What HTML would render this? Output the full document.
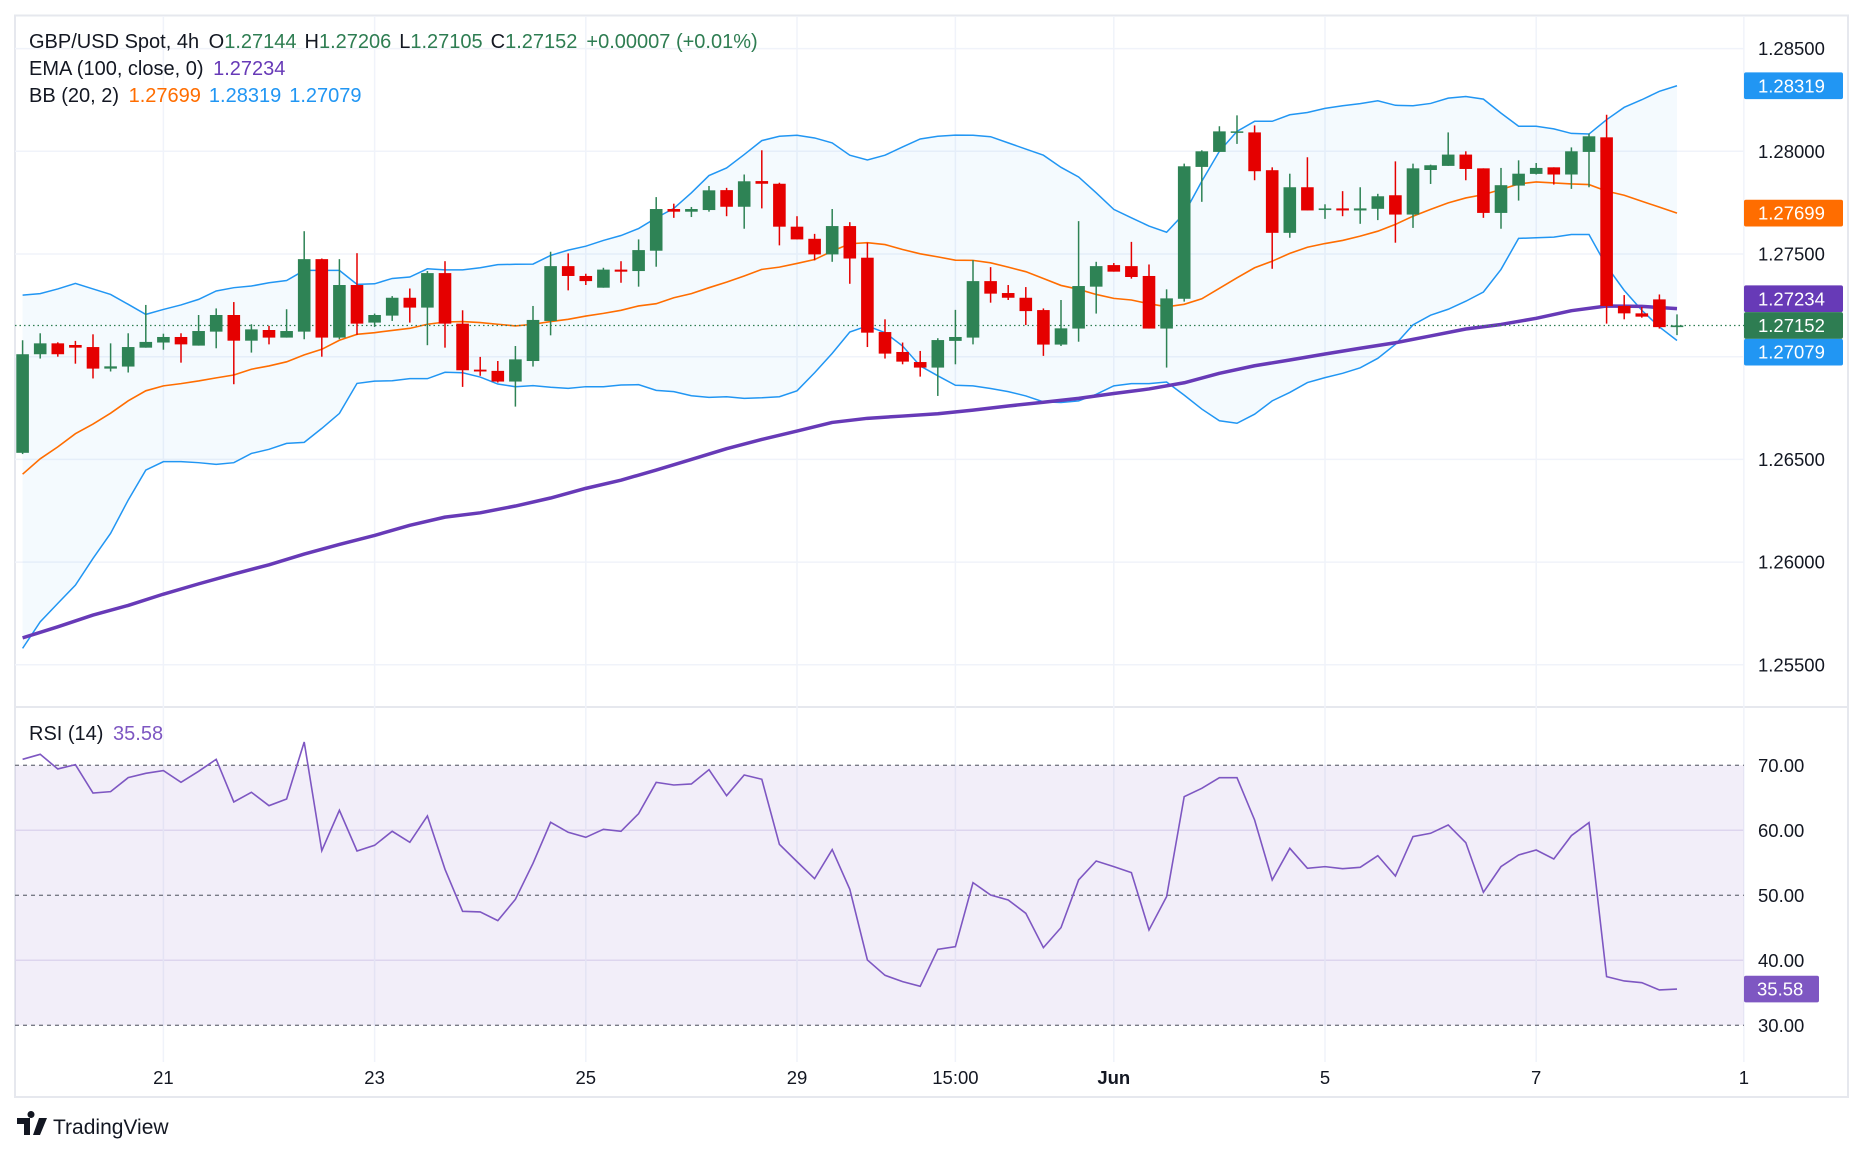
<!DOCTYPE html>
<html><head><meta charset="utf-8"><title>GBP/USD 4h chart</title>
<style>
html,body{margin:0;padding:0;background:#fff;}
svg{display:block;font-family:"Liberation Sans",Arial,sans-serif;}
</style></head>
<body>
<svg id="chart" width="1865" height="1154" viewBox="0 0 1865 1154" xmlns="http://www.w3.org/2000/svg">
  <rect x="15" y="15.5" width="1833" height="1081.5" fill="#fff" stroke="#e6e8ee" stroke-width="2"/>
  <line x1="15" y1="707" x2="1848" y2="707" stroke="#e6e8ee" stroke-width="2"/>
  <g id="grid"></g>
  <g id="rsiBg"></g>
  <g id="bands"></g>
  <g id="ema"></g>
  <g id="candles"></g>
  <g id="rsi"></g>
  <g id="axes"></g>
  <g id="labels"></g>

  <g font-size="20">
    <text x="29" y="48" fill="#131722">GBP/USD Spot, 4h <tspan dx="4">O</tspan><tspan fill="#2e7d52">1.27144</tspan><tspan dx="8">H</tspan><tspan fill="#2e7d52">1.27206</tspan><tspan dx="8">L</tspan><tspan fill="#2e7d52">1.27105</tspan><tspan dx="8">C</tspan><tspan fill="#2e7d52">1.27152</tspan><tspan dx="9" fill="#2e7d52">+0.00007 (+0.01%)</tspan></text>
    <text x="29" y="75" fill="#131722">EMA (100, close, 0) <tspan dx="4" fill="#673ab7">1.27234</tspan></text>
    <text x="29" y="102" fill="#131722">BB (20, 2) <tspan dx="4" fill="#ff6d00">1.27699</tspan><tspan dx="8" fill="#2196f3">1.28319</tspan><tspan dx="8" fill="#2196f3">1.27079</tspan></text>
    <text x="29" y="740" fill="#131722">RSI (14) <tspan dx="4" fill="#7e57c2">35.58</tspan></text>
  </g>
  <g>
    <path d="M17 1118 h13 v17 h-6 v-11 h-7z M31 1118 a3.5 3.5 0 1 1 0.01 0z M39 1118 h8 l-7 17 h-7z" fill="#131722"/>
    <text x="53" y="1134" font-size="21" fill="#131722">TradingView</text>
  </g>
</svg>
<script>
const opens=[1.26532,1.27012,1.27065,1.27057,1.27047,1.26942,1.26952,1.27044,1.27069,1.27096,1.27054,1.27122,1.27203,1.27078,1.27130,1.27093,1.27122,1.27475,1.27093,1.27349,1.27166,1.27200,1.27287,1.27239,1.27407,1.27161,1.26937,1.26931,1.26879,1.26979,1.27174,1.27441,1.27393,1.27336,1.27424,1.27417,1.27516,1.27719,1.27706,1.27714,1.27811,1.27730,1.27855,1.27842,1.27633,1.27574,1.27498,1.27636,1.27482,1.27120,1.27023,1.26974,1.26947,1.27077,1.27093,1.27368,1.27310,1.27287,1.27227,1.27059,1.27137,1.27341,1.27446,1.27441,1.27393,1.27137,1.27282,1.27924,1.27997,1.28094,1.28092,1.27908,1.27603,1.27825,1.27714,1.27722,1.27712,1.27720,1.27786,1.27692,1.27909,1.27929,1.27984,1.27917,1.27700,1.27833,1.27890,1.27922,1.27887,1.27997,1.28068,1.27247,1.27211,1.27279,1.27144];
const highs=[1.27080,1.27114,1.27070,1.27077,1.27109,1.27065,1.27114,1.27252,1.27112,1.27114,1.27203,1.27235,1.27266,1.27158,1.27150,1.27231,1.27611,1.27478,1.27475,1.27504,1.27210,1.27295,1.27332,1.27417,1.27465,1.27226,1.26999,1.26979,1.27052,1.27247,1.27511,1.27503,1.27404,1.27433,1.27465,1.27571,1.27777,1.27745,1.27729,1.27831,1.27822,1.27887,1.28005,1.27847,1.27684,1.27598,1.27719,1.27655,1.27555,1.27182,1.27069,1.27028,1.27090,1.27228,1.27470,1.27436,1.27349,1.27339,1.27235,1.27276,1.27660,1.27462,1.27456,1.27559,1.27449,1.27328,1.27940,1.28005,1.28122,1.28175,1.28126,1.27922,1.27891,1.27971,1.27742,1.27806,1.27825,1.27793,1.27951,1.27940,1.27935,1.28092,1.28000,1.27917,1.27919,1.27956,1.27943,1.27922,1.28019,1.28086,1.28178,1.27300,1.27242,1.27303,1.27206];
const lows=[1.26526,1.26991,1.27000,1.26966,1.26894,1.26928,1.26923,1.27044,1.27034,1.26971,1.27054,1.27041,1.26866,1.27020,1.27060,1.27093,1.27085,1.27000,1.27085,1.27106,1.27145,1.27174,1.27166,1.27056,1.27044,1.26853,1.26907,1.26874,1.26757,1.26952,1.27104,1.27323,1.27349,1.27336,1.27360,1.27341,1.27438,1.27676,1.27680,1.27706,1.27684,1.27623,1.27722,1.27542,1.27571,1.27469,1.27462,1.27355,1.27047,1.26991,1.26963,1.26903,1.26809,1.26963,1.27060,1.27263,1.27276,1.27154,1.27004,1.27052,1.27073,1.27210,1.27414,1.27380,1.27137,1.26947,1.27268,1.27754,1.27997,1.28036,1.27859,1.27428,1.27579,1.27712,1.27671,1.27684,1.27647,1.27665,1.27555,1.27627,1.27841,1.27929,1.27859,1.27676,1.27623,1.27760,1.27887,1.27838,1.27817,1.27825,1.27161,1.27182,1.27190,1.27137,1.27105];
const closes=[1.27012,1.27065,1.27012,1.27044,1.26942,1.26953,1.27047,1.27072,1.27096,1.27060,1.27125,1.27203,1.27078,1.27133,1.27093,1.27125,1.27475,1.27093,1.27349,1.27161,1.27203,1.27287,1.27239,1.27407,1.27161,1.26934,1.26928,1.26879,1.26987,1.27179,1.27441,1.27393,1.27368,1.27424,1.27414,1.27519,1.27719,1.27706,1.27719,1.27810,1.27730,1.27854,1.27842,1.27633,1.27571,1.27498,1.27636,1.27478,1.27117,1.27015,1.26976,1.26947,1.27081,1.27096,1.27368,1.27307,1.27287,1.27222,1.27059,1.27138,1.27344,1.27441,1.27414,1.27388,1.27137,1.27284,1.27927,1.28000,1.28097,1.28097,1.27903,1.27603,1.27825,1.27712,1.27722,1.27712,1.27722,1.27781,1.27692,1.27917,1.27932,1.27984,1.27914,1.27700,1.27835,1.27891,1.27919,1.27887,1.28000,1.28073,1.27247,1.27211,1.27195,1.27144,1.27152];
const bbUpper=[1.27300,1.27307,1.27330,1.27357,1.27330,1.27303,1.27255,1.27206,1.27230,1.27252,1.27279,1.27320,1.27336,1.27344,1.27360,1.27371,1.27420,1.27420,1.27420,1.27352,1.27355,1.27381,1.27388,1.27428,1.27423,1.27423,1.27433,1.27448,1.27450,1.27451,1.27493,1.27519,1.27538,1.27566,1.27590,1.27624,1.27676,1.27722,1.27798,1.27882,1.27919,1.27984,1.28052,1.28073,1.28078,1.28065,1.28041,1.27981,1.27958,1.27981,1.28021,1.28060,1.28073,1.28079,1.28078,1.28071,1.28041,1.28011,1.27981,1.27922,1.27875,1.27798,1.27717,1.27676,1.27636,1.27606,1.27697,1.27854,1.28000,1.28097,1.28146,1.28146,1.28178,1.28189,1.28209,1.28222,1.28232,1.28246,1.28224,1.28222,1.28233,1.28259,1.28267,1.28254,1.28186,1.28122,1.28122,1.28109,1.28087,1.28084,1.28154,1.28214,1.28251,1.28292,1.28319];
const bbMid=[1.26428,1.26503,1.26561,1.26625,1.26672,1.26725,1.26785,1.26834,1.26858,1.26869,1.26882,1.26897,1.26911,1.26939,1.26955,1.26975,1.27009,1.27036,1.27080,1.27109,1.27117,1.27128,1.27138,1.27158,1.27169,1.27171,1.27166,1.27158,1.27150,1.27158,1.27171,1.27182,1.27198,1.27211,1.27226,1.27247,1.27258,1.27287,1.27307,1.27336,1.27363,1.27393,1.27425,1.27436,1.27454,1.27473,1.27514,1.27550,1.27555,1.27546,1.27522,1.27501,1.27486,1.27470,1.27469,1.27457,1.27436,1.27414,1.27381,1.27347,1.27328,1.27303,1.27284,1.27276,1.27258,1.27243,1.27255,1.27282,1.27333,1.27384,1.27433,1.27465,1.27503,1.27533,1.27551,1.27566,1.27587,1.27611,1.27644,1.27684,1.27717,1.27749,1.27773,1.27789,1.27814,1.27841,1.27851,1.27846,1.27841,1.27838,1.27806,1.27786,1.27757,1.27728,1.27699];
const bbLower=[1.25580,1.25709,1.25799,1.25888,1.26018,1.26140,1.26302,1.26448,1.26489,1.26489,1.26484,1.26476,1.26484,1.26529,1.26549,1.26578,1.26583,1.26651,1.26724,1.26870,1.26881,1.26883,1.26893,1.26893,1.26924,1.26922,1.26901,1.26867,1.26854,1.26859,1.26851,1.26846,1.26854,1.26854,1.26862,1.26864,1.26836,1.26830,1.26810,1.26802,1.26805,1.26797,1.26800,1.26805,1.26834,1.26922,1.27016,1.27120,1.27150,1.27117,1.27052,1.26955,1.26907,1.26861,1.26858,1.26845,1.26830,1.26809,1.26780,1.26777,1.26785,1.26817,1.26858,1.26869,1.26869,1.26877,1.26813,1.26745,1.26688,1.26676,1.26720,1.26785,1.26826,1.26874,1.26898,1.26919,1.26946,1.26992,1.27060,1.27155,1.27202,1.27231,1.27270,1.27315,1.27425,1.27576,1.27579,1.27582,1.27595,1.27595,1.27441,1.27323,1.27226,1.27145,1.27079];
const emaBars=[0,2,4,6,8,10,12,14,16,18,20,22,24,26,28,30,32,34,36,38,40,42,44,46,48,50,52,54,56,58,60,62,64,66,68,70,72,74,76,78,80,82,84,86,88,90,92,94];
const emaValues=[1.25631,1.25685,1.25742,1.25789,1.25844,1.25894,1.25942,1.25987,1.26039,1.26086,1.26130,1.26179,1.26219,1.26240,1.26273,1.26312,1.26359,1.26399,1.26448,1.26500,1.26552,1.26597,1.26638,1.26680,1.26700,1.26711,1.26722,1.26740,1.26760,1.26778,1.26797,1.26821,1.26843,1.26873,1.26919,1.26956,1.26984,1.27013,1.27041,1.27068,1.27101,1.27135,1.27157,1.27187,1.27224,1.27247,1.27245,1.27234];
const rsiValues=[70.92,71.69,69.44,70.10,65.74,65.95,68.10,68.77,69.18,67.38,69.08,70.92,64.36,65.85,63.79,64.82,73.59,56.87,63.08,56.82,57.69,59.85,58.15,62.21,54.00,47.54,47.44,46.10,49.38,54.92,61.23,59.69,58.92,60.15,59.85,62.56,67.38,66.97,67.13,69.33,65.33,68.51,67.85,57.85,55.18,52.56,57.03,50.92,40.05,37.69,36.72,36.00,41.69,42.10,51.95,50.05,49.28,47.23,41.95,45.03,52.36,55.28,54.41,53.49,44.67,49.79,65.18,66.46,68.10,68.10,61.59,52.36,57.23,54.15,54.41,54.10,54.31,56.10,52.97,59.03,59.54,60.82,58.10,50.46,54.41,56.21,56.97,55.59,59.18,61.18,37.49,36.82,36.56,35.44,35.58];
const priceTicks=[1.285,1.28,1.275,1.27,1.265,1.26,1.255];
const rsiTicks=[70,60,50,40,30];
const timeLabels=["21","23","25","29","15:00","Jun","5","7","1"];
const timeLabelBars=[8,20,32,44,53,62,74,86,97.8];

const NS="http://www.w3.org/2000/svg";
const PL=15, PR=1744;
const xOf=i=>22.6+17.6*i;
const yP=p=>356.7-(p-1.27)*20540;
const yR=r=>765.3+(70-r)*6.5;
function mk(parent,tag,attrs){const e=document.createElementNS(NS,tag);for(const k in attrs)e.setAttribute(k,attrs[k]);parent.appendChild(e);return e;}
const G=id=>document.getElementById(id);

const grid=G('grid');
priceTicks.forEach(p=>{const l=mk(grid,'line',{x1:PL,x2:PR,y1:yP(p),y2:yP(p),stroke:'#f0f3fa','stroke-width':1.5});

});
[60,40].forEach(r=>{const l=mk(grid,'line',{x1:PL,x2:PR,y1:yR(r),y2:yR(r),stroke:'#e8e4f3','stroke-width':1.5});

});
timeLabelBars.forEach(b=>{const l=mk(grid,'line',{x1:xOf(b),x2:xOf(b),y1:16,y2:1062,stroke:'#f0f3fa','stroke-width':1.5});

});

const rb=G('rsiBg');
const rr=mk(rb,'rect',{x:PL,y:yR(70),width:PR-PL,height:yR(30)-yR(70),fill:'rgba(126,87,194,0.1)'});


[70,50,30].forEach(r=>{const l=mk(rb,'line',{x1:PL,x2:PR,y1:yR(r),y2:yR(r),stroke:'#787b86','stroke-width':1.3,'stroke-dasharray':'4 4'});

});

const bands=G('bands');
const ptsU=bbUpper.map((v,i)=>xOf(i)+','+yP(v));
const ptsL=bbLower.map((v,i)=>xOf(i)+','+yP(v));
const fill=mk(bands,'polygon',{points:ptsU.concat(ptsL.slice().reverse()).join(' '),fill:'rgba(33,150,243,0.05)'});


const up=mk(bands,'polyline',{points:ptsU.join(' '),fill:'none',stroke:'#2196f3','stroke-width':1.5});


const lo=mk(bands,'polyline',{points:ptsL.join(' '),fill:'none',stroke:'#2196f3','stroke-width':1.5});


const mid=mk(bands,'polyline',{points:bbMid.map((v,i)=>xOf(i)+','+yP(v)).join(' '),fill:'none',stroke:'#ff6d00','stroke-width':1.6});



const em=mk(G('ema'),'polyline',{points:emaBars.map((b,k)=>xOf(b)+','+yP(emaValues[k])).join(' '),fill:'none',stroke:'#673ab7','stroke-width':3.5,'stroke-linejoin':'round'});



const lp=mk(G('ema'),'line',{x1:PL,x2:PR,y1:yP(closes[closes.length-1]),y2:yP(closes[closes.length-1]),stroke:'#2e7d52','stroke-width':1.2,'stroke-dasharray':'1.5 3'});



const cg=G('candles');
closes.forEach((c,i)=>{
  const o=opens[i],up=c>=o,col=up?'#2e8355':'#e50000',x=xOf(i);
  const g=mk(cg,'g',{});
  
  
  mk(g,'line',{x1:x,x2:x,y1:yP(highs[i]),y2:yP(lows[i]),stroke:col,'stroke-width':1.5});
  const t=yP(Math.max(o,c)),b=yP(Math.min(o,c));
  mk(g,'rect',{x:x-6.3,y:t,width:12.6,height:Math.max(b-t,1.5),fill:col});
});

const rl=mk(G('rsi'),'polyline',{points:rsiValues.map((v,i)=>xOf(i)+','+yR(v)).join(' '),fill:'none',stroke:'#7e57c2','stroke-width':1.6});



const ax=G('axes');
priceTicks.forEach(p=>{const t=mk(ax,'text',{x:1758,y:yP(p)+6.5,'font-size':18.5,fill:'#131722'});t.textContent=p.toFixed(5);

});
rsiTicks.forEach(r=>{const t=mk(ax,'text',{x:1758,y:yR(r)+6.5,'font-size':18.5,fill:'#131722'});t.textContent=r.toFixed(2);

});
timeLabels.forEach((s,k)=>{const t=mk(ax,'text',{x:xOf(timeLabelBars[k]),y:1084,'font-size':18.5,fill:'#131722','text-anchor':'middle','font-weight':s==='Jun'?'bold':'normal'});t.textContent=s;

});

const lab=G('labels');
const items=[
 {v:bbUpper[bbUpper.length-1],c:'#2196f3',n:'bb-upper-label'},
 {v:bbMid[bbMid.length-1],c:'#ff6d00',n:'bb-basis-label'},
 {v:emaValues[emaValues.length-1],c:'#673ab7',n:'ema-label'},
 {v:closes[closes.length-1],c:'#2e7d52',n:'last-price-label'},
 {v:bbLower[bbLower.length-1],c:'#2196f3',n:'bb-lower-label'}
];
const H=26.7;
items.forEach(it=>it.y=yP(it.v));
const li=items.findIndex(it=>it.n==='last-price-label');
for(let k=li-1;k>=0;k--){if(items[k].y>items[k+1].y-H)items[k].y=items[k+1].y-H;}
for(let k=li+1;k<items.length;k++){if(items[k].y<items[k-1].y+H)items[k].y=items[k-1].y+H;}
items.forEach(it=>{
  const g=mk(lab,'g',{});
  
  
  mk(g,'rect',{x:1744,y:it.y-H/2,width:99,height:H,rx:2,fill:it.c});
  const t=mk(g,'text',{x:1758,y:it.y+6.5,'font-size':18.5,fill:'#fff'});t.textContent=it.v.toFixed(5);
});
const rv=rsiValues[rsiValues.length-1];
const rg=mk(lab,'g',{});


mk(rg,'rect',{x:1744,y:yR(rv)-13.3,width:75,height:26.7,rx:2,fill:'#7e57c2'});
const rt=mk(rg,'text',{x:1757,y:yR(rv)+6.5,'font-size':18.5,fill:'#fff'});rt.textContent=rv.toFixed(2);
</script>
</body></html>
